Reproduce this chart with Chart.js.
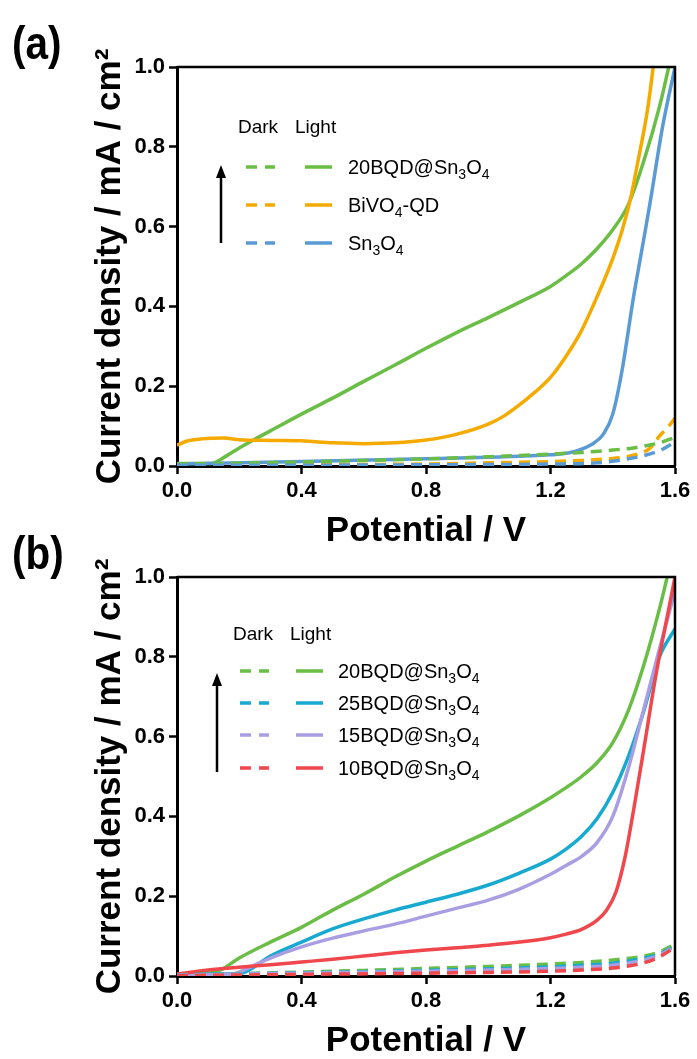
<!DOCTYPE html>
<html><head><meta charset="utf-8">
<script src="https://cdn.jsdelivr.net/npm/chart.js@4"></script>
<style>
html,body{margin:0;padding:0;background:#fff;width:697px;height:1059px;overflow:hidden;position:relative}
.wrap{position:absolute;left:0;width:697px;height:549px}
#wa{top:0}#wb{top:510px}
canvas{display:block}
</style></head><body>
<div class="wrap" id="wa"><canvas id="ca" width="697" height="549"></canvas></div>
<div class="wrap" id="wb"><canvas id="cb" width="697" height="549"></canvas></div>
<script>
// ---- axes ----
const xTicks = [0, 0.4, 0.8, 1.2, 1.6];
const yTicks = [0, 0.2, 0.4, 0.6, 0.8, 1.0];
const xTitle = 'Potential / V';
const yTitle = 'Current density / mA / cm\u00B2';

// ---- panel (a) ----
const aNames  = ['20BQD@Sn3O4', 'BiVO4-QD', 'Sn3O4'];
const aColors = ['#6abe46', '#f5aa00', '#5b9bd5'];
const a20BQDLight = [[0,0.006],[0.06,0.006],[0.1,0.006],[0.12,0.008],[0.16,0.026],[0.2,0.045],[0.25,0.067],[0.3,0.088],[0.4,0.13],[0.5,0.17],[0.6,0.212],[0.7,0.253],[0.8,0.295],[0.9,0.335],[1.0,0.372],[1.1,0.41],[1.2,0.45],[1.25,0.477],[1.3,0.507],[1.35,0.545],[1.4,0.592],[1.45,0.655],[1.5,0.765],[1.55,0.9],[1.58,1.0]];
const a20BQDDark  = [[0,0.005],[0.2,0.007],[0.4,0.01],[0.6,0.014],[0.8,0.018],[1.0,0.023],[1.2,0.03],[1.3,0.034],[1.4,0.04],[1.466,0.045],[1.5,0.05],[1.55,0.058],[1.6,0.072]];
const aBiVO4Light = [[0,0.052],[0.03,0.062],[0.08,0.068],[0.15,0.07],[0.2,0.066],[0.3,0.064],[0.4,0.063],[0.5,0.058],[0.6,0.056],[0.7,0.058],[0.8,0.065],[0.9,0.08],[1.0,0.105],[1.05,0.125],[1.1,0.153],[1.15,0.185],[1.2,0.222],[1.25,0.275],[1.3,0.34],[1.35,0.425],[1.4,0.52],[1.43,0.59],[1.46,0.68],[1.48,0.76],[1.5,0.84],[1.515,0.91],[1.53,1.0]];
const aBiVO4Dark  = [[0,0.003],[0.4,0.003],[0.8,0.005],[1.0,0.008],[1.2,0.011],[1.3,0.014],[1.4,0.019],[1.466,0.027],[1.52,0.045],[1.55,0.075],[1.58,0.1],[1.6,0.12]];
const aSn3O4Light = [[0,0.005],[0.4,0.011],[0.8,0.018],[1.0,0.022],[1.2,0.028],[1.26,0.033],[1.3,0.042],[1.34,0.058],[1.37,0.08],[1.4,0.13],[1.43,0.24],[1.466,0.42],[1.5,0.57],[1.52,0.66],[1.56,0.85],[1.6,1.0]];
const aSn3O4Dark  = [[0,0.002],[0.4,0.002],[0.8,0.003],[1.2,0.005],[1.35,0.008],[1.45,0.018],[1.5,0.026],[1.56,0.042],[1.6,0.06]];

// ---- panel (b) ----
const bNames  = ['20BQD@Sn3O4', '25BQD@Sn3O4', '15BQD@Sn3O4', '10BQD@Sn3O4'];
const bColors = ['#6abe46', '#17a9cf', '#a99ee2', '#f0474c'];
const b20Light = [[0,0.005],[0.1,0.008],[0.14,0.015],[0.2,0.045],[0.3,0.085],[0.4,0.122],[0.5,0.165],[0.6,0.205],[0.7,0.248],[0.8,0.288],[0.9,0.325],[1.0,0.362],[1.1,0.402],[1.2,0.447],[1.25,0.472],[1.3,0.5],[1.35,0.535],[1.4,0.585],[1.45,0.665],[1.5,0.78],[1.55,0.92],[1.575,1.0]];
const b25Light = [[0,0.004],[0.2,0.006],[0.22,0.01],[0.3,0.05],[0.4,0.085],[0.5,0.118],[0.6,0.143],[0.7,0.165],[0.8,0.185],[0.9,0.205],[1.0,0.228],[1.1,0.258],[1.2,0.293],[1.25,0.318],[1.3,0.35],[1.35,0.395],[1.4,0.46],[1.45,0.55],[1.5,0.665],[1.55,0.8],[1.6,0.87]];
const b15Light = [[0,0.003],[0.18,0.005],[0.2,0.01],[0.3,0.045],[0.4,0.073],[0.5,0.095],[0.6,0.113],[0.7,0.13],[0.8,0.15],[0.9,0.17],[1.0,0.19],[1.1,0.218],[1.2,0.255],[1.25,0.277],[1.3,0.3],[1.35,0.335],[1.4,0.4],[1.45,0.52],[1.5,0.67],[1.55,0.82],[1.6,0.965]];
const b10Light = [[0,0.005],[0.05,0.01],[0.1,0.015],[0.14,0.018],[0.2,0.022],[0.3,0.028],[0.4,0.035],[0.5,0.042],[0.6,0.05],[0.7,0.058],[0.8,0.065],[0.9,0.071],[1.0,0.077],[1.1,0.085],[1.2,0.096],[1.25,0.105],[1.3,0.117],[1.35,0.14],[1.38,0.165],[1.41,0.21],[1.44,0.3],[1.47,0.43],[1.5,0.57],[1.54,0.76],[1.58,0.92],[1.6,1.0]];
const b20Dark = [[0,0.003],[0.2,0.006],[0.4,0.01],[0.6,0.014],[0.8,0.019],[1.0,0.024],[1.2,0.03],[1.3,0.034],[1.4,0.04],[1.5,0.05],[1.55,0.06],[1.6,0.08]];
const b25Dark = [[0,0.003],[0.4,0.008],[0.8,0.014],[1.0,0.018],[1.2,0.023],[1.3,0.027],[1.4,0.032],[1.5,0.045],[1.55,0.055],[1.6,0.075]];
const b15Dark = [[0,0.002],[0.4,0.007],[0.8,0.012],[1.0,0.015],[1.2,0.019],[1.3,0.022],[1.4,0.027],[1.5,0.04],[1.55,0.052],[1.6,0.075]];
const b10Dark = [[0,0.001],[0.4,0.004],[0.8,0.007],[1.0,0.009],[1.2,0.012],[1.3,0.015],[1.4,0.02],[1.5,0.033],[1.55,0.048],[1.6,0.072]];

const FONT = "'Liberation Sans', Arial, Helvetica, sans-serif";

function ds(label, pts, color, dark) {
  return {
    label: label + (dark ? ' (Dark)' : ' (Light)'),
    data: pts.map(p => ({x: p[0], y: p[1]})),
    borderColor: color, backgroundColor: color,
    borderWidth: 3.5,
    borderDash: dark ? [11, 7] : [],
    pointRadius: 0, fill: false,
    cubicInterpolationMode: 'monotone'
  };
}

function drawRich(ctx, text, x, y, size) {
  let cx = x, prevLetter = false, prevSub = false;
  for (const ch of text) {
    const isDigit = /[0-9]/.test(ch);
    const sub = isDigit && (prevLetter || prevSub);
    if (sub) {
      ctx.font = `${Math.round(size*0.7)}px ${FONT}`;
      ctx.fillText(ch, cx, y + size*0.25);
    } else {
      ctx.font = `${size}px ${FONT}`;
      ctx.fillText(ch, cx, y);
    }
    cx += ctx.measureText(ch).width;
    prevLetter = /[A-Za-z]/.test(ch);
    prevSub = sub;
  }
}

function decor(opts) {
  return {
    id: 'decor',
    afterDraw(chart) {
      const ctx = chart.ctx, ca = chart.chartArea;
      ctx.save();
      // box top & right
      ctx.strokeStyle = '#000'; ctx.lineWidth = 2.5;
      ctx.beginPath();
      ctx.moveTo(ca.left, ca.top); ctx.lineTo(ca.right, ca.top); ctx.lineTo(ca.right, ca.bottom);
      ctx.stroke();
      // panel label
      ctx.fillStyle = '#000';
      ctx.save();
      ctx.translate(12, 59);
      ctx.scale(0.88, 1);
      ctx.font = `bold 46px ${FONT}`;
      ctx.textBaseline = 'alphabetic';
      ctx.fillText(opts.panel, 0, 0);
      ctx.restore();
      // legend header
      ctx.font = `19px ${FONT}`;
      ctx.fillText('Dark', opts.darkX, opts.headY + 7);
      ctx.fillText('Light', opts.lightX, opts.headY + 7);
      opts.names.forEach((n, i) => {
        const y = opts.rows[i];
        ctx.strokeStyle = opts.colors[i]; ctx.lineWidth = 3.5;
        ctx.beginPath();
        ctx.moveTo(opts.d1[0], y); ctx.lineTo(opts.d1[1], y);
        ctx.moveTo(opts.d2[0], y); ctx.lineTo(opts.d2[1], y);
        ctx.moveTo(opts.s[0], y); ctx.lineTo(opts.s[1], y);
        ctx.stroke();
        ctx.fillStyle = '#000';
        drawRich(ctx, n, opts.textX, y + 7, 20);
      });
      // arrow
      ctx.strokeStyle = '#000'; ctx.lineWidth = 2.5;
      ctx.beginPath();
      ctx.moveTo(opts.arrowX, opts.arrowBottom); ctx.lineTo(opts.arrowX, opts.arrowTop + 10);
      ctx.stroke();
      ctx.beginPath();
      ctx.moveTo(opts.arrowX, opts.arrowTop);
      ctx.lineTo(opts.arrowX - 5, opts.arrowTop + 13);
      ctx.lineTo(opts.arrowX + 5, opts.arrowTop + 13);
      ctx.closePath(); ctx.fill();
      ctx.restore();
    }
  };
}

function makeChart(id, datasets, opts) {
  return new Chart(document.getElementById(id), {
    type: 'line',
    data: { datasets },
    options: {
      responsive: false, animation: false,
      layout: { padding: { left: 0, right: 22, top: 67, bottom: 0 } },
      plugins: { legend: { display: false }, tooltip: { enabled: false } },
      scales: {
        x: {
          type: 'linear', min: 0, max: 1.6,
          afterBuildTicks: s => { s.ticks = xTicks.map(v => ({ value: v })); },
          afterFit: s => { s.height = 83; },
          ticks: { callback: v => Number(v).toFixed(1), color: '#000', font: { family: FONT, size: 22, weight: 'bold' }, padding: 4, maxRotation: 0, autoSkip: false },
          grid: { drawOnChartArea: false, drawTicks: true, tickLength: 8, tickWidth: 2.5, tickColor: '#000' },
          border: { display: true, color: '#000', width: 3 },
          title: { display: true, text: xTitle, color: '#000', font: { family: FONT, size: 35, weight: 'bold' }, padding: { top: 0, bottom: -3 } }
        },
        y: {
          type: 'linear', min: 0, max: 1.0,
          afterBuildTicks: s => { s.ticks = yTicks.map(v => ({ value: v })); },
          afterFit: s => { s.width = 177; },
          ticks: { callback: v => Number(v).toFixed(1), color: '#000', font: { family: FONT, size: 22, weight: 'bold' }, padding: 4 },
          grid: { drawOnChartArea: false, drawTicks: true, tickLength: 8, tickWidth: 2.5, tickColor: '#000' },
          border: { display: true, color: '#000', width: 3 },
          title: { display: true, text: yTitle, color: '#000', font: { family: FONT, size: 35, weight: 'bold' }, padding: { top: 89, bottom: 0 } }
        }
      }
    },
    plugins: [decor(opts)]
  });
}

makeChart('ca', [
  ds(aNames[2], aSn3O4Dark, aColors[2], true),
  ds(aNames[0], a20BQDDark, aColors[0], true),
  ds(aNames[1], aBiVO4Dark, aColors[1], true),
  ds(aNames[2], aSn3O4Light, aColors[2], false),
  ds(aNames[1], aBiVO4Light, aColors[1], false),
  ds(aNames[0], a20BQDLight, aColors[0], false)
], {
  panel: '(a)', names: aNames, colors: aColors,
  headY: 126, darkX: 238, lightX: 295, rows: [167, 205, 243],
  d1: [246, 257], d2: [265, 275], s: [305, 332], textX: 348,
  arrowX: 221, arrowTop: 165, arrowBottom: 243
});

makeChart('cb', [
  ds(bNames[3], b10Dark, bColors[3], true),
  ds(bNames[2], b15Dark, bColors[2], true),
  ds(bNames[1], b25Dark, bColors[1], true),
  ds(bNames[0], b20Dark, bColors[0], true),
  ds(bNames[3], b10Light, bColors[3], false),
  ds(bNames[2], b15Light, bColors[2], false),
  ds(bNames[1], b25Light, bColors[1], false),
  ds(bNames[0], b20Light, bColors[0], false)
], {
  panel: '(b)', names: bNames, colors: bColors,
  headY: 123, darkX: 233, lightX: 290, rows: [161, 193, 225, 258],
  d1: [240, 251], d2: [259, 269], s: [296, 323], textX: 338,
  arrowX: 217, arrowTop: 163, arrowBottom: 262
});
</script>
</body></html>
